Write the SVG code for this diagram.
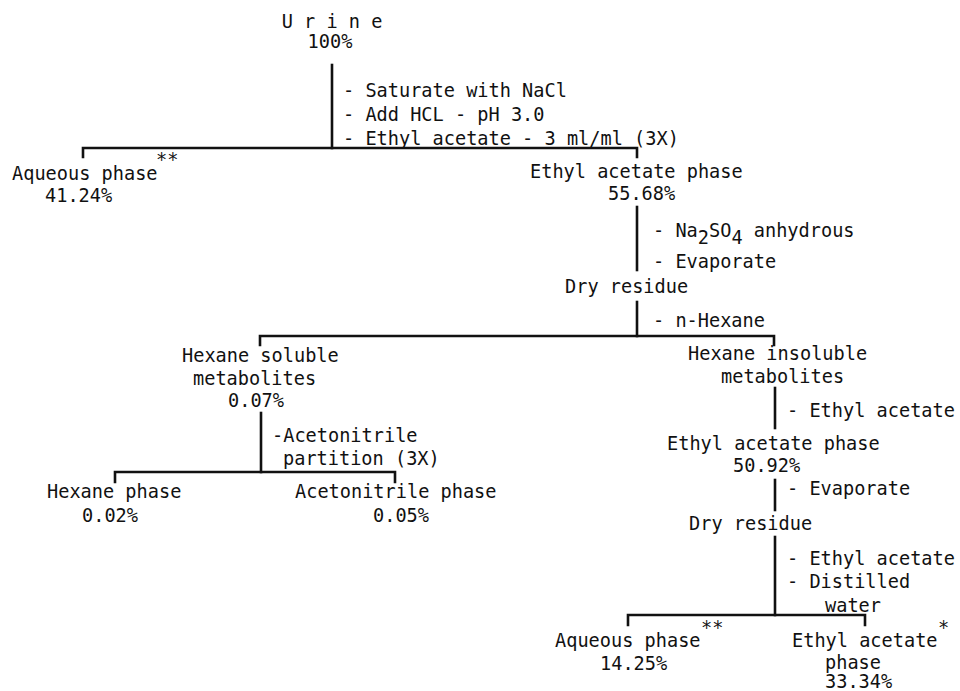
<svg xmlns="http://www.w3.org/2000/svg" width="960" height="691" viewBox="0 0 960 691">
<style>
text{font-family:"DejaVu Sans Mono","Liberation Mono",monospace;font-size:18.6px;fill:#111}
.c line,.c path{stroke:#111;stroke-width:2.6;fill:none;stroke-linecap:square}
.m{text-anchor:middle}
</style>
<rect width="960" height="691" fill="#fff"/>
<g class="c" id="connectors">
<line x1="332" y1="65" x2="332" y2="148"/>
<path d="M83,157 V148 H637 V157"/>
<line x1="637" y1="207" x2="637" y2="270"/>
<line x1="637" y1="302" x2="637" y2="336"/>
<path d="M260,345 V336 H774 V345"/>
<line x1="261" y1="413" x2="261" y2="472"/>
<path d="M115,482 V472 H395 V482"/>
<line x1="775" y1="388" x2="775" y2="428"/>
<line x1="775" y1="480" x2="775" y2="510"/>
<line x1="775" y1="537" x2="775" y2="615"/>
<path d="M628,625 V615 H865 V625"/>
</g>
<g id="urine">
<text class="m" x="332" y="28">U r i n e</text>
<text class="m" x="330" y="48">100%</text>
</g>
<g id="step1">
<text x="343" y="97">- Saturate with NaCl</text>
<text x="343" y="121">- Add HCL - pH 3.0</text>
<text x="343" y="145">- Ethyl acetate - 3 ml/ml (3X)</text>
</g>
<g id="aqueous1">
<text x="12" y="180">Aqueous phase</text>
<text x="156" y="166">**</text>
<text x="45" y="202">41.24%</text>
</g>
<g id="ethylacetate1">
<text x="530" y="178">Ethyl acetate phase</text>
<text x="608" y="200">55.68%</text>
</g>
<g id="step2">
<text x="653" y="237">- Na<tspan dy="7">2</tspan><tspan dy="-7">SO</tspan><tspan dy="7">4</tspan><tspan dy="-7"> anhydrous</tspan></text>
<text x="653" y="268">- Evaporate</text>
</g>
<g id="dryresidue1">
<text x="565" y="293">Dry residue</text>
</g>
<g id="step3">
<text x="653" y="327">- n-Hexane</text>
</g>
<g id="hexanesoluble">
<text x="182" y="362">Hexane soluble</text>
<text x="193" y="385">metabolites</text>
<text x="228" y="407">0.07%</text>
</g>
<g id="step4">
<text x="272" y="442">-Acetonitrile</text>
<text x="283" y="465">partition (3X)</text>
</g>
<g id="hexanephase">
<text x="47" y="498">Hexane phase</text>
<text x="82" y="522">0.02%</text>
</g>
<g id="acetonitrilephase">
<text x="295" y="498">Acetonitrile phase</text>
<text x="373" y="522">0.05%</text>
</g>
<g id="hexaneinsoluble">
<text x="688" y="360">Hexane insoluble</text>
<text x="721" y="383">metabolites</text>
</g>
<g id="step5">
<text x="787" y="417">- Ethyl acetate</text>
</g>
<g id="ethylacetate2">
<text x="667" y="450">Ethyl acetate phase</text>
<text x="733" y="472">50.92%</text>
</g>
<g id="step6">
<text x="787" y="495">- Evaporate</text>
</g>
<g id="dryresidue2">
<text x="689" y="530">Dry residue</text>
</g>
<g id="step7">
<text x="787" y="565">- Ethyl acetate</text>
<text x="787" y="588">- Distilled</text>
<text x="825" y="612">water</text>
</g>
<g id="aqueous2">
<text x="555" y="647">Aqueous phase</text>
<text x="701" y="634">**</text>
<text x="600" y="670">14.25%</text>
</g>
<g id="ethylacetate3">
<text x="792" y="647">Ethyl acetate</text>
<text x="938" y="634">*</text>
<text x="825" y="669">phase</text>
<text x="825" y="688">33.34%</text>
</g>
</svg>
